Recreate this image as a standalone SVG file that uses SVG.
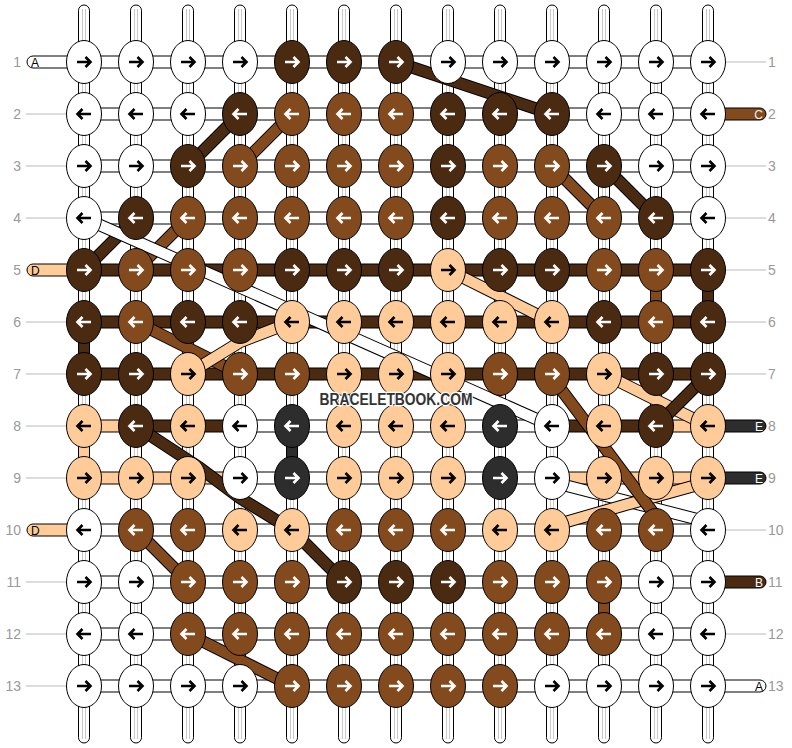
<svg xmlns="http://www.w3.org/2000/svg" width="792" height="748" viewBox="0 0 792 748">
<style>
.vp{fill:#fff;stroke:#000;stroke-width:1}
.vi{fill:none;stroke:#c8c8c8;stroke-width:1}
.hb{stroke:#000;stroke-width:1}
.fW{fill:#fff}.fP{fill:#FFCC99}.fD{fill:#4B2A12}.fM{fill:#834A1E}.fG{fill:#2D2D2D}
.gl{fill:none;stroke:#bbb;stroke-width:1}
.o{fill:none;stroke:#000;stroke-width:12.5;stroke-linejoin:round}
.sW,.sP,.sD,.sM{fill:none;stroke-width:10.5;stroke-linejoin:round}
.sW{stroke:#fff}.sP{stroke:#FFCC99}.sD{stroke:#4B2A12}.sM{stroke:#834A1E}
ellipse{stroke:#000;stroke-width:1}
.kW ellipse{fill:#fff}.kP ellipse{fill:#FFCC99}.kD ellipse{fill:#4B2A12}.kM ellipse{fill:#834A1E}.kG ellipse{fill:#2D2D2D}
.knots use{fill:none;stroke-width:2.6}
.kW use,.kP use{stroke:#000}
.kD use,.kM use,.kG use{stroke:#fff}
.num{font-family:"Liberation Sans",Arial,sans-serif;font-size:14px;fill:#999}
.lt{font-family:"Liberation Sans",Arial,sans-serif;font-size:12px}
.wm{font-family:"Liberation Sans",Arial,sans-serif;font-size:16px;font-weight:bold;fill:#333;stroke:#fff;stroke-width:2.5;paint-order:stroke}
</style>
<defs>
<path id="R" d="M-7,0H6.5M1.5,-5L6.5,0L1.5,5"/>
<path id="L" d="M7,0H-6.5M-1.5,-5L-6.5,0L-1.5,5"/>
</defs>
<g id="connectors">
<g id="strands">
<rect class="vp" x="78.5" y="5" width="11" height="738" rx="5.5"/>
<rect class="vp" x="130.5" y="5" width="11" height="738" rx="5.5"/>
<rect class="vp" x="182.5" y="5" width="11" height="738" rx="5.5"/>
<rect class="vp" x="234.5" y="5" width="11" height="738" rx="5.5"/>
<rect class="vp" x="286.5" y="5" width="11" height="738" rx="5.5"/>
<rect class="vp" x="338.5" y="5" width="11" height="738" rx="5.5"/>
<rect class="vp" x="390.5" y="5" width="11" height="738" rx="5.5"/>
<rect class="vp" x="442.5" y="5" width="11" height="738" rx="5.5"/>
<rect class="vp" x="494.5" y="5" width="11" height="738" rx="5.5"/>
<rect class="vp" x="546.5" y="5" width="11" height="738" rx="5.5"/>
<rect class="vp" x="598.5" y="5" width="11" height="738" rx="5.5"/>
<rect class="vp" x="650.5" y="5" width="11" height="738" rx="5.5"/>
<rect class="vp" x="702.5" y="5" width="11" height="738" rx="5.5"/>
<path class="vi" d="M82.5,9V739M85.5,9V739M134.5,9V739M137.5,9V739M186.5,9V739M189.5,9V739M238.5,9V739M241.5,9V739M290.5,9V739M293.5,9V739M342.5,9V739M345.5,9V739M394.5,9V739M397.5,9V739M446.5,9V739M449.5,9V739M498.5,9V739M501.5,9V739M550.5,9V739M553.5,9V739M602.5,9V739M605.5,9V739M654.5,9V739M657.5,9V739M706.5,9V739M709.5,9V739"/>
</g>
<g id="rows">
<rect class="hb fW" x="84" y="56" width="624" height="12"/>
<rect class="hb fW" x="84" y="108" width="624" height="12"/>
<rect class="hb fW" x="84" y="160" width="624" height="12"/>
<rect class="hb fW" x="84" y="212" width="624" height="12"/>
<rect class="hb fD" x="84" y="264" width="624" height="12"/>
<rect class="hb fD" x="84" y="316" width="624" height="12"/>
<rect class="hb fD" x="84" y="368" width="624" height="12"/>
<rect class="hb fP" x="84" y="420" width="52" height="12"/>
<rect class="hb fD" x="136" y="420" width="104" height="12"/>
<rect class="hb fW" x="240" y="420" width="312" height="12"/>
<rect class="hb fD" x="552" y="420" width="104" height="12"/>
<rect class="hb fP" x="656" y="420" width="52" height="12"/>
<rect class="hb fP" x="84" y="472" width="156" height="12"/>
<rect class="hb fW" x="240" y="472" width="312" height="12"/>
<rect class="hb fP" x="552" y="472" width="156" height="12"/>
<rect class="hb fW" x="84" y="524" width="624" height="12"/>
<rect class="hb fW" x="84" y="576" width="624" height="12"/>
<rect class="hb fW" x="84" y="628" width="624" height="12"/>
<rect class="hb fW" x="84" y="680" width="624" height="12"/>
</g>
<g id="verticals">
<rect class="hb fD" x="78.5" y="322" width="11" height="52"/>
<rect class="hb fM" x="650.5" y="270" width="11" height="52"/>
<rect class="hb fD" x="702.5" y="270" width="11" height="52"/>
<rect class="hb fP" x="78.5" y="426" width="11" height="52"/>
<rect class="hb fG" x="286.5" y="426" width="11" height="52"/>
<rect class="hb fM" x="598.5" y="582" width="11" height="52"/>
</g>
<g id="ends">
<rect class="hb fW" x="27" y="56" width="50" height="12" rx="6"/>
<rect class="hb fP" x="27" y="264" width="50" height="12" rx="6"/>
<rect class="hb fP" x="27" y="524" width="50" height="12" rx="6"/>
<rect class="hb fM" x="716" y="108" width="50" height="12" rx="6"/>
<rect class="hb fG" x="716" y="420" width="50" height="12" rx="6"/>
<rect class="hb fG" x="716" y="472" width="50" height="12" rx="6"/>
<rect class="hb fD" x="716" y="576" width="50" height="12" rx="6"/>
<rect class="hb fW" x="716" y="680" width="50" height="12" rx="6"/>
<path class="gl" d="M26,114H66M26,166H66M26,218H66M26,322H66M26,374H66M26,426H66M26,478H66M26,582H66M26,634H66M26,686H66"/>
<path class="gl" d="M726,62H766M726,166H766M726,218H766M726,270H766M726,322H766M726,374H766M726,530H766M726,634H766"/>
</g>
<g id="diagonals">
<path class="o" d="M396,62L552,114"/><path class="sD" d="M396,62L552,114"/>
<path class="o" d="M240,114L188,166"/><path class="sD" d="M240,114L188,166"/>
<path class="o" d="M292,114L240,166"/><path class="sM" d="M292,114L240,166"/>
<path class="o" d="M136,218L84,270"/><path class="sD" d="M136,218L84,270"/>
<path class="o" d="M188,218L136,270"/><path class="sM" d="M188,218L136,270"/>
<path class="o" d="M552,166L604,218"/><path class="sM" d="M552,166L604,218"/>
<path class="o" d="M604,166L656,218"/><path class="sD" d="M604,166L656,218"/>
<path class="o" d="M84,218L552,426"/><path class="sW" d="M84,218L552,426"/>
<path class="o" d="M136,322L240,374"/><path class="sM" d="M136,322L240,374"/>
<path class="o" d="M292,322L240,342L188,374"/><path class="sP" d="M292,322L240,342L188,374"/>
<path class="o" d="M448,270L552,322"/><path class="sP" d="M448,270L552,322"/>
<path class="o" d="M604,374L708,426"/><path class="sP" d="M604,374L708,426"/>
<path class="o" d="M708,374L656,426"/><path class="sD" d="M708,374L656,426"/>
<path class="o" d="M552,482L708,522"/><path class="sW" d="M552,482L708,522"/>
<path class="o" d="M552,526L625,505L708,482"/><path class="sP" d="M552,526L625,505L708,482"/>
<path class="o" d="M548,372L590,428L660,522"/><path class="sM" d="M548,372L590,428L660,522"/>
<path class="o" d="M136,426L200,468L240,498L292,530L344,582"/><path class="sD" d="M136,426L200,468L240,498L292,530L344,582"/>
<path class="o" d="M136,530L188,582"/><path class="sM" d="M136,530L188,582"/>
<path class="o" d="M188,634L292,686"/><path class="sM" d="M188,634L292,686"/>
</g>
</g>
<g id="knots" class="knots">
<g id="k1-1" class="kW" transform="translate(84,62)"><ellipse rx="17.5" ry="21.5"/><use href="#R"/></g>
<g id="k1-2" class="kW" transform="translate(136,62)"><ellipse rx="17.5" ry="21.5"/><use href="#R"/></g>
<g id="k1-3" class="kW" transform="translate(188,62)"><ellipse rx="17.5" ry="21.5"/><use href="#R"/></g>
<g id="k1-4" class="kW" transform="translate(240,62)"><ellipse rx="17.5" ry="21.5"/><use href="#R"/></g>
<g id="k1-5" class="kD" transform="translate(292,62)"><ellipse rx="17.5" ry="21.5"/><use href="#R"/></g>
<g id="k1-6" class="kD" transform="translate(344,62)"><ellipse rx="17.5" ry="21.5"/><use href="#R"/></g>
<g id="k1-7" class="kD" transform="translate(396,62)"><ellipse rx="17.5" ry="21.5"/><use href="#R"/></g>
<g id="k1-8" class="kW" transform="translate(448,62)"><ellipse rx="17.5" ry="21.5"/><use href="#R"/></g>
<g id="k1-9" class="kW" transform="translate(500,62)"><ellipse rx="17.5" ry="21.5"/><use href="#R"/></g>
<g id="k1-10" class="kW" transform="translate(552,62)"><ellipse rx="17.5" ry="21.5"/><use href="#R"/></g>
<g id="k1-11" class="kW" transform="translate(604,62)"><ellipse rx="17.5" ry="21.5"/><use href="#R"/></g>
<g id="k1-12" class="kW" transform="translate(656,62)"><ellipse rx="17.5" ry="21.5"/><use href="#R"/></g>
<g id="k1-13" class="kW" transform="translate(708,62)"><ellipse rx="17.5" ry="21.5"/><use href="#R"/></g>
<g id="k2-1" class="kW" transform="translate(84,114)"><ellipse rx="17.5" ry="21.5"/><use href="#L"/></g>
<g id="k2-2" class="kW" transform="translate(136,114)"><ellipse rx="17.5" ry="21.5"/><use href="#L"/></g>
<g id="k2-3" class="kW" transform="translate(188,114)"><ellipse rx="17.5" ry="21.5"/><use href="#L"/></g>
<g id="k2-4" class="kD" transform="translate(240,114)"><ellipse rx="17.5" ry="21.5"/><use href="#L"/></g>
<g id="k2-5" class="kM" transform="translate(292,114)"><ellipse rx="17.5" ry="21.5"/><use href="#L"/></g>
<g id="k2-6" class="kM" transform="translate(344,114)"><ellipse rx="17.5" ry="21.5"/><use href="#L"/></g>
<g id="k2-7" class="kM" transform="translate(396,114)"><ellipse rx="17.5" ry="21.5"/><use href="#L"/></g>
<g id="k2-8" class="kD" transform="translate(448,114)"><ellipse rx="17.5" ry="21.5"/><use href="#L"/></g>
<g id="k2-9" class="kD" transform="translate(500,114)"><ellipse rx="17.5" ry="21.5"/><use href="#L"/></g>
<g id="k2-10" class="kD" transform="translate(552,114)"><ellipse rx="17.5" ry="21.5"/><use href="#L"/></g>
<g id="k2-11" class="kW" transform="translate(604,114)"><ellipse rx="17.5" ry="21.5"/><use href="#L"/></g>
<g id="k2-12" class="kW" transform="translate(656,114)"><ellipse rx="17.5" ry="21.5"/><use href="#L"/></g>
<g id="k2-13" class="kW" transform="translate(708,114)"><ellipse rx="17.5" ry="21.5"/><use href="#L"/></g>
<g id="k3-1" class="kW" transform="translate(84,166)"><ellipse rx="17.5" ry="21.5"/><use href="#R"/></g>
<g id="k3-2" class="kW" transform="translate(136,166)"><ellipse rx="17.5" ry="21.5"/><use href="#R"/></g>
<g id="k3-3" class="kD" transform="translate(188,166)"><ellipse rx="17.5" ry="21.5"/><use href="#R"/></g>
<g id="k3-4" class="kM" transform="translate(240,166)"><ellipse rx="17.5" ry="21.5"/><use href="#R"/></g>
<g id="k3-5" class="kM" transform="translate(292,166)"><ellipse rx="17.5" ry="21.5"/><use href="#R"/></g>
<g id="k3-6" class="kM" transform="translate(344,166)"><ellipse rx="17.5" ry="21.5"/><use href="#R"/></g>
<g id="k3-7" class="kM" transform="translate(396,166)"><ellipse rx="17.5" ry="21.5"/><use href="#R"/></g>
<g id="k3-8" class="kD" transform="translate(448,166)"><ellipse rx="17.5" ry="21.5"/><use href="#R"/></g>
<g id="k3-9" class="kM" transform="translate(500,166)"><ellipse rx="17.5" ry="21.5"/><use href="#R"/></g>
<g id="k3-10" class="kM" transform="translate(552,166)"><ellipse rx="17.5" ry="21.5"/><use href="#R"/></g>
<g id="k3-11" class="kD" transform="translate(604,166)"><ellipse rx="17.5" ry="21.5"/><use href="#R"/></g>
<g id="k3-12" class="kW" transform="translate(656,166)"><ellipse rx="17.5" ry="21.5"/><use href="#R"/></g>
<g id="k3-13" class="kW" transform="translate(708,166)"><ellipse rx="17.5" ry="21.5"/><use href="#R"/></g>
<g id="k4-1" class="kW" transform="translate(84,218)"><ellipse rx="17.5" ry="21.5"/><use href="#L"/></g>
<g id="k4-2" class="kD" transform="translate(136,218)"><ellipse rx="17.5" ry="21.5"/><use href="#L"/></g>
<g id="k4-3" class="kM" transform="translate(188,218)"><ellipse rx="17.5" ry="21.5"/><use href="#L"/></g>
<g id="k4-4" class="kM" transform="translate(240,218)"><ellipse rx="17.5" ry="21.5"/><use href="#L"/></g>
<g id="k4-5" class="kM" transform="translate(292,218)"><ellipse rx="17.5" ry="21.5"/><use href="#L"/></g>
<g id="k4-6" class="kM" transform="translate(344,218)"><ellipse rx="17.5" ry="21.5"/><use href="#L"/></g>
<g id="k4-7" class="kM" transform="translate(396,218)"><ellipse rx="17.5" ry="21.5"/><use href="#L"/></g>
<g id="k4-8" class="kD" transform="translate(448,218)"><ellipse rx="17.5" ry="21.5"/><use href="#L"/></g>
<g id="k4-9" class="kM" transform="translate(500,218)"><ellipse rx="17.5" ry="21.5"/><use href="#L"/></g>
<g id="k4-10" class="kM" transform="translate(552,218)"><ellipse rx="17.5" ry="21.5"/><use href="#L"/></g>
<g id="k4-11" class="kM" transform="translate(604,218)"><ellipse rx="17.5" ry="21.5"/><use href="#L"/></g>
<g id="k4-12" class="kD" transform="translate(656,218)"><ellipse rx="17.5" ry="21.5"/><use href="#L"/></g>
<g id="k4-13" class="kW" transform="translate(708,218)"><ellipse rx="17.5" ry="21.5"/><use href="#L"/></g>
<g id="k5-1" class="kD" transform="translate(84,270)"><ellipse rx="17.5" ry="21.5"/><use href="#R"/></g>
<g id="k5-2" class="kM" transform="translate(136,270)"><ellipse rx="17.5" ry="21.5"/><use href="#R"/></g>
<g id="k5-3" class="kM" transform="translate(188,270)"><ellipse rx="17.5" ry="21.5"/><use href="#R"/></g>
<g id="k5-4" class="kM" transform="translate(240,270)"><ellipse rx="17.5" ry="21.5"/><use href="#R"/></g>
<g id="k5-5" class="kD" transform="translate(292,270)"><ellipse rx="17.5" ry="21.5"/><use href="#R"/></g>
<g id="k5-6" class="kD" transform="translate(344,270)"><ellipse rx="17.5" ry="21.5"/><use href="#R"/></g>
<g id="k5-7" class="kD" transform="translate(396,270)"><ellipse rx="17.5" ry="21.5"/><use href="#R"/></g>
<g id="k5-8" class="kP" transform="translate(448,270)"><ellipse rx="17.5" ry="21.5"/><use href="#R"/></g>
<g id="k5-9" class="kD" transform="translate(500,270)"><ellipse rx="17.5" ry="21.5"/><use href="#R"/></g>
<g id="k5-10" class="kD" transform="translate(552,270)"><ellipse rx="17.5" ry="21.5"/><use href="#R"/></g>
<g id="k5-11" class="kM" transform="translate(604,270)"><ellipse rx="17.5" ry="21.5"/><use href="#R"/></g>
<g id="k5-12" class="kM" transform="translate(656,270)"><ellipse rx="17.5" ry="21.5"/><use href="#R"/></g>
<g id="k5-13" class="kD" transform="translate(708,270)"><ellipse rx="17.5" ry="21.5"/><use href="#R"/></g>
<g id="k6-1" class="kD" transform="translate(84,322)"><ellipse rx="17.5" ry="21.5"/><use href="#L"/></g>
<g id="k6-2" class="kM" transform="translate(136,322)"><ellipse rx="17.5" ry="21.5"/><use href="#L"/></g>
<g id="k6-3" class="kD" transform="translate(188,322)"><ellipse rx="17.5" ry="21.5"/><use href="#L"/></g>
<g id="k6-4" class="kD" transform="translate(240,322)"><ellipse rx="17.5" ry="21.5"/><use href="#L"/></g>
<g id="k6-5" class="kP" transform="translate(292,322)"><ellipse rx="17.5" ry="21.5"/><use href="#L"/></g>
<g id="k6-6" class="kP" transform="translate(344,322)"><ellipse rx="17.5" ry="21.5"/><use href="#L"/></g>
<g id="k6-7" class="kP" transform="translate(396,322)"><ellipse rx="17.5" ry="21.5"/><use href="#L"/></g>
<g id="k6-8" class="kP" transform="translate(448,322)"><ellipse rx="17.5" ry="21.5"/><use href="#L"/></g>
<g id="k6-9" class="kP" transform="translate(500,322)"><ellipse rx="17.5" ry="21.5"/><use href="#L"/></g>
<g id="k6-10" class="kP" transform="translate(552,322)"><ellipse rx="17.5" ry="21.5"/><use href="#L"/></g>
<g id="k6-11" class="kD" transform="translate(604,322)"><ellipse rx="17.5" ry="21.5"/><use href="#L"/></g>
<g id="k6-12" class="kM" transform="translate(656,322)"><ellipse rx="17.5" ry="21.5"/><use href="#L"/></g>
<g id="k6-13" class="kD" transform="translate(708,322)"><ellipse rx="17.5" ry="21.5"/><use href="#L"/></g>
<g id="k7-1" class="kD" transform="translate(84,374)"><ellipse rx="17.5" ry="21.5"/><use href="#R"/></g>
<g id="k7-2" class="kD" transform="translate(136,374)"><ellipse rx="17.5" ry="21.5"/><use href="#R"/></g>
<g id="k7-3" class="kP" transform="translate(188,374)"><ellipse rx="17.5" ry="21.5"/><use href="#R"/></g>
<g id="k7-4" class="kM" transform="translate(240,374)"><ellipse rx="17.5" ry="21.5"/><use href="#R"/></g>
<g id="k7-5" class="kM" transform="translate(292,374)"><ellipse rx="17.5" ry="21.5"/><use href="#R"/></g>
<g id="k7-6" class="kP" transform="translate(344,374)"><ellipse rx="17.5" ry="21.5"/><use href="#R"/></g>
<g id="k7-7" class="kP" transform="translate(396,374)"><ellipse rx="17.5" ry="21.5"/><use href="#R"/></g>
<g id="k7-8" class="kP" transform="translate(448,374)"><ellipse rx="17.5" ry="21.5"/><use href="#R"/></g>
<g id="k7-9" class="kM" transform="translate(500,374)"><ellipse rx="17.5" ry="21.5"/><use href="#R"/></g>
<g id="k7-10" class="kM" transform="translate(552,374)"><ellipse rx="17.5" ry="21.5"/><use href="#R"/></g>
<g id="k7-11" class="kP" transform="translate(604,374)"><ellipse rx="17.5" ry="21.5"/><use href="#R"/></g>
<g id="k7-12" class="kD" transform="translate(656,374)"><ellipse rx="17.5" ry="21.5"/><use href="#R"/></g>
<g id="k7-13" class="kD" transform="translate(708,374)"><ellipse rx="17.5" ry="21.5"/><use href="#R"/></g>
<g id="k8-1" class="kP" transform="translate(84,426)"><ellipse rx="17.5" ry="21.5"/><use href="#L"/></g>
<g id="k8-2" class="kD" transform="translate(136,426)"><ellipse rx="17.5" ry="21.5"/><use href="#L"/></g>
<g id="k8-3" class="kP" transform="translate(188,426)"><ellipse rx="17.5" ry="21.5"/><use href="#L"/></g>
<g id="k8-4" class="kW" transform="translate(240,426)"><ellipse rx="17.5" ry="21.5"/><use href="#L"/></g>
<g id="k8-5" class="kG" transform="translate(292,426)"><ellipse rx="17.5" ry="21.5"/><use href="#L"/></g>
<g id="k8-6" class="kP" transform="translate(344,426)"><ellipse rx="17.5" ry="21.5"/><use href="#L"/></g>
<g id="k8-7" class="kP" transform="translate(396,426)"><ellipse rx="17.5" ry="21.5"/><use href="#L"/></g>
<g id="k8-8" class="kP" transform="translate(448,426)"><ellipse rx="17.5" ry="21.5"/><use href="#L"/></g>
<g id="k8-9" class="kG" transform="translate(500,426)"><ellipse rx="17.5" ry="21.5"/><use href="#L"/></g>
<g id="k8-10" class="kW" transform="translate(552,426)"><ellipse rx="17.5" ry="21.5"/><use href="#L"/></g>
<g id="k8-11" class="kP" transform="translate(604,426)"><ellipse rx="17.5" ry="21.5"/><use href="#L"/></g>
<g id="k8-12" class="kD" transform="translate(656,426)"><ellipse rx="17.5" ry="21.5"/><use href="#L"/></g>
<g id="k8-13" class="kP" transform="translate(708,426)"><ellipse rx="17.5" ry="21.5"/><use href="#L"/></g>
<g id="k9-1" class="kP" transform="translate(84,478)"><ellipse rx="17.5" ry="21.5"/><use href="#R"/></g>
<g id="k9-2" class="kP" transform="translate(136,478)"><ellipse rx="17.5" ry="21.5"/><use href="#R"/></g>
<g id="k9-3" class="kP" transform="translate(188,478)"><ellipse rx="17.5" ry="21.5"/><use href="#R"/></g>
<g id="k9-4" class="kW" transform="translate(240,478)"><ellipse rx="17.5" ry="21.5"/><use href="#R"/></g>
<g id="k9-5" class="kG" transform="translate(292,478)"><ellipse rx="17.5" ry="21.5"/><use href="#R"/></g>
<g id="k9-6" class="kP" transform="translate(344,478)"><ellipse rx="17.5" ry="21.5"/><use href="#R"/></g>
<g id="k9-7" class="kP" transform="translate(396,478)"><ellipse rx="17.5" ry="21.5"/><use href="#R"/></g>
<g id="k9-8" class="kP" transform="translate(448,478)"><ellipse rx="17.5" ry="21.5"/><use href="#R"/></g>
<g id="k9-9" class="kG" transform="translate(500,478)"><ellipse rx="17.5" ry="21.5"/><use href="#R"/></g>
<g id="k9-10" class="kW" transform="translate(552,478)"><ellipse rx="17.5" ry="21.5"/><use href="#R"/></g>
<g id="k9-11" class="kP" transform="translate(604,478)"><ellipse rx="17.5" ry="21.5"/><use href="#R"/></g>
<g id="k9-12" class="kP" transform="translate(656,478)"><ellipse rx="17.5" ry="21.5"/><use href="#R"/></g>
<g id="k9-13" class="kP" transform="translate(708,478)"><ellipse rx="17.5" ry="21.5"/><use href="#R"/></g>
<g id="k10-1" class="kW" transform="translate(84,530)"><ellipse rx="17.5" ry="21.5"/><use href="#L"/></g>
<g id="k10-2" class="kM" transform="translate(136,530)"><ellipse rx="17.5" ry="21.5"/><use href="#L"/></g>
<g id="k10-3" class="kM" transform="translate(188,530)"><ellipse rx="17.5" ry="21.5"/><use href="#L"/></g>
<g id="k10-4" class="kP" transform="translate(240,530)"><ellipse rx="17.5" ry="21.5"/><use href="#L"/></g>
<g id="k10-5" class="kP" transform="translate(292,530)"><ellipse rx="17.5" ry="21.5"/><use href="#L"/></g>
<g id="k10-6" class="kM" transform="translate(344,530)"><ellipse rx="17.5" ry="21.5"/><use href="#L"/></g>
<g id="k10-7" class="kM" transform="translate(396,530)"><ellipse rx="17.5" ry="21.5"/><use href="#L"/></g>
<g id="k10-8" class="kM" transform="translate(448,530)"><ellipse rx="17.5" ry="21.5"/><use href="#L"/></g>
<g id="k10-9" class="kP" transform="translate(500,530)"><ellipse rx="17.5" ry="21.5"/><use href="#L"/></g>
<g id="k10-10" class="kP" transform="translate(552,530)"><ellipse rx="17.5" ry="21.5"/><use href="#L"/></g>
<g id="k10-11" class="kM" transform="translate(604,530)"><ellipse rx="17.5" ry="21.5"/><use href="#L"/></g>
<g id="k10-12" class="kM" transform="translate(656,530)"><ellipse rx="17.5" ry="21.5"/><use href="#L"/></g>
<g id="k10-13" class="kW" transform="translate(708,530)"><ellipse rx="17.5" ry="21.5"/><use href="#L"/></g>
<g id="k11-1" class="kW" transform="translate(84,582)"><ellipse rx="17.5" ry="21.5"/><use href="#R"/></g>
<g id="k11-2" class="kW" transform="translate(136,582)"><ellipse rx="17.5" ry="21.5"/><use href="#R"/></g>
<g id="k11-3" class="kM" transform="translate(188,582)"><ellipse rx="17.5" ry="21.5"/><use href="#R"/></g>
<g id="k11-4" class="kM" transform="translate(240,582)"><ellipse rx="17.5" ry="21.5"/><use href="#R"/></g>
<g id="k11-5" class="kM" transform="translate(292,582)"><ellipse rx="17.5" ry="21.5"/><use href="#R"/></g>
<g id="k11-6" class="kD" transform="translate(344,582)"><ellipse rx="17.5" ry="21.5"/><use href="#R"/></g>
<g id="k11-7" class="kD" transform="translate(396,582)"><ellipse rx="17.5" ry="21.5"/><use href="#R"/></g>
<g id="k11-8" class="kD" transform="translate(448,582)"><ellipse rx="17.5" ry="21.5"/><use href="#R"/></g>
<g id="k11-9" class="kM" transform="translate(500,582)"><ellipse rx="17.5" ry="21.5"/><use href="#R"/></g>
<g id="k11-10" class="kM" transform="translate(552,582)"><ellipse rx="17.5" ry="21.5"/><use href="#R"/></g>
<g id="k11-11" class="kM" transform="translate(604,582)"><ellipse rx="17.5" ry="21.5"/><use href="#R"/></g>
<g id="k11-12" class="kW" transform="translate(656,582)"><ellipse rx="17.5" ry="21.5"/><use href="#R"/></g>
<g id="k11-13" class="kW" transform="translate(708,582)"><ellipse rx="17.5" ry="21.5"/><use href="#R"/></g>
<g id="k12-1" class="kW" transform="translate(84,634)"><ellipse rx="17.5" ry="21.5"/><use href="#L"/></g>
<g id="k12-2" class="kW" transform="translate(136,634)"><ellipse rx="17.5" ry="21.5"/><use href="#L"/></g>
<g id="k12-3" class="kM" transform="translate(188,634)"><ellipse rx="17.5" ry="21.5"/><use href="#L"/></g>
<g id="k12-4" class="kM" transform="translate(240,634)"><ellipse rx="17.5" ry="21.5"/><use href="#L"/></g>
<g id="k12-5" class="kM" transform="translate(292,634)"><ellipse rx="17.5" ry="21.5"/><use href="#L"/></g>
<g id="k12-6" class="kM" transform="translate(344,634)"><ellipse rx="17.5" ry="21.5"/><use href="#L"/></g>
<g id="k12-7" class="kM" transform="translate(396,634)"><ellipse rx="17.5" ry="21.5"/><use href="#L"/></g>
<g id="k12-8" class="kM" transform="translate(448,634)"><ellipse rx="17.5" ry="21.5"/><use href="#L"/></g>
<g id="k12-9" class="kM" transform="translate(500,634)"><ellipse rx="17.5" ry="21.5"/><use href="#L"/></g>
<g id="k12-10" class="kM" transform="translate(552,634)"><ellipse rx="17.5" ry="21.5"/><use href="#L"/></g>
<g id="k12-11" class="kM" transform="translate(604,634)"><ellipse rx="17.5" ry="21.5"/><use href="#L"/></g>
<g id="k12-12" class="kW" transform="translate(656,634)"><ellipse rx="17.5" ry="21.5"/><use href="#L"/></g>
<g id="k12-13" class="kW" transform="translate(708,634)"><ellipse rx="17.5" ry="21.5"/><use href="#L"/></g>
<g id="k13-1" class="kW" transform="translate(84,686)"><ellipse rx="17.5" ry="21.5"/><use href="#R"/></g>
<g id="k13-2" class="kW" transform="translate(136,686)"><ellipse rx="17.5" ry="21.5"/><use href="#R"/></g>
<g id="k13-3" class="kW" transform="translate(188,686)"><ellipse rx="17.5" ry="21.5"/><use href="#R"/></g>
<g id="k13-4" class="kW" transform="translate(240,686)"><ellipse rx="17.5" ry="21.5"/><use href="#R"/></g>
<g id="k13-5" class="kM" transform="translate(292,686)"><ellipse rx="17.5" ry="21.5"/><use href="#R"/></g>
<g id="k13-6" class="kM" transform="translate(344,686)"><ellipse rx="17.5" ry="21.5"/><use href="#R"/></g>
<g id="k13-7" class="kM" transform="translate(396,686)"><ellipse rx="17.5" ry="21.5"/><use href="#R"/></g>
<g id="k13-8" class="kM" transform="translate(448,686)"><ellipse rx="17.5" ry="21.5"/><use href="#R"/></g>
<g id="k13-9" class="kM" transform="translate(500,686)"><ellipse rx="17.5" ry="21.5"/><use href="#R"/></g>
<g id="k13-10" class="kW" transform="translate(552,686)"><ellipse rx="17.5" ry="21.5"/><use href="#R"/></g>
<g id="k13-11" class="kW" transform="translate(604,686)"><ellipse rx="17.5" ry="21.5"/><use href="#R"/></g>
<g id="k13-12" class="kW" transform="translate(656,686)"><ellipse rx="17.5" ry="21.5"/><use href="#R"/></g>
<g id="k13-13" class="kW" transform="translate(708,686)"><ellipse rx="17.5" ry="21.5"/><use href="#R"/></g>
</g>
<g id="labels">
<text class="lt" x="31" y="66.5" fill="#000">A</text>
<text class="lt" x="31" y="274.5" fill="#000">D</text>
<text class="lt" x="31" y="534.5" fill="#000">D</text>
<text class="lt" x="763" y="118.5" fill="#eee" text-anchor="end">C</text>
<text class="lt" x="763" y="430.5" fill="#fff" text-anchor="end">E</text>
<text class="lt" x="763" y="482.5" fill="#fff" text-anchor="end">E</text>
<text class="lt" x="763" y="586.5" fill="#fff" text-anchor="end">B</text>
<text class="lt" x="763" y="690.5" fill="#000" text-anchor="end">A</text>
<g class="num" text-anchor="end">
<text x="21" y="67">1</text><text x="21" y="119">2</text><text x="21" y="171">3</text><text x="21" y="223">4</text><text x="21" y="275">5</text><text x="21" y="327">6</text><text x="21" y="379">7</text><text x="21" y="431">8</text><text x="21" y="483">9</text><text x="21" y="535">10</text><text x="21" y="587">11</text><text x="21" y="639">12</text><text x="21" y="691">13</text>
</g>
<g class="num">
<text x="768" y="67">1</text><text x="768" y="119">2</text><text x="768" y="171">3</text><text x="768" y="223">4</text><text x="768" y="275">5</text><text x="768" y="327">6</text><text x="768" y="379">7</text><text x="768" y="431">8</text><text x="768" y="483">9</text><text x="768" y="535">10</text><text x="768" y="587">11</text><text x="768" y="639">12</text><text x="768" y="691">13</text>
</g>
<text class="wm" x="396" y="405" text-anchor="middle" textLength="153" lengthAdjust="spacingAndGlyphs">BRACELETBOOK.COM</text>
</g>
</svg>
